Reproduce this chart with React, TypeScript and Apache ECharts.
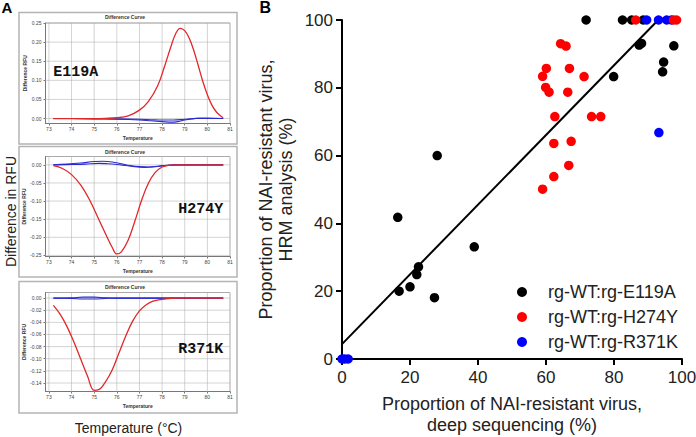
import React, { useEffect, useRef } from "react";
import * as echarts from "echarts";

type Pt = [number, number];

const FONT = "'Liberation Sans', Arial, Helvetica, sans-serif";
const MONO = "'Liberation Mono', 'Courier New', monospace";

// ---------- Panel A data ----------
const tempTicks = [73, 74, 75, 76, 77, 78, 79, 80, 81];
const e119aTicks = [0, 0.05, 0.1, 0.15, 0.2, 0.25];
const h274yTicks = [0, -0.05, -0.1, -0.15, -0.2, -0.25];
const r371kTicks = [0, -0.02, -0.04, -0.06, -0.08, -0.1, -0.12, -0.14];

const e119aRed: Pt[] = [
  [73.2, 0], [74.0, 0], [75.0, 0], [75.5, 0.0005], [76.0, 0.002], [76.5, 0.007],
  [77.0, 0.022], [77.4, 0.045], [77.8, 0.085], [78.1, 0.135], [78.4, 0.19],
  [78.6, 0.222], [78.8, 0.236], [79.0, 0.23], [79.2, 0.21], [79.4, 0.178],
  [79.6, 0.138], [79.8, 0.097], [80.0, 0.062], [80.2, 0.035], [80.4, 0.017],
  [80.6, 0.006], [80.7, 0.002],
];
const e119aBlue1: Pt[] = [
  [73.2, 0], [74.0, 0], [75.0, -0.001], [76.0, -0.002], [77.0, -0.004], [77.5, -0.006],
  [78.0, -0.008], [78.4, -0.0095], [78.7, -0.008], [79.0, -0.004], [79.3, -0.001],
  [79.6, 0.001], [80.0, 0.001], [80.7, 0],
];
const e119aBlue2: Pt[] = [
  [73.2, 0], [74.0, 0], [75.0, -0.0005], [76.0, -0.001], [77.0, -0.002], [77.5, -0.003],
  [78.0, -0.004], [78.5, -0.004], [79.0, -0.002], [79.5, 0], [80.7, 0],
];

const h274yRed: Pt[] = [
  [73.2, -0.002], [73.6, -0.01], [74.0, -0.027], [74.4, -0.055], [74.8, -0.097],
  [75.2, -0.15], [75.5, -0.19], [75.8, -0.228], [76.0, -0.246], [76.2, -0.24],
  [76.5, -0.208], [76.8, -0.155], [77.1, -0.097], [77.4, -0.05], [77.7, -0.021],
  [78.0, -0.006], [78.3, -0.001], [78.6, 0], [80.7, 0],
];
const h274yBlue1: Pt[] = [
  [73.2, 0], [73.8, 0.002], [74.4, 0.005], [75.0, 0.009], [75.4, 0.01], [75.8, 0.008],
  [76.2, 0.003], [76.6, -0.002], [77.0, -0.005], [77.4, -0.006], [77.8, -0.004],
  [78.2, -0.001], [78.6, 0], [80.7, 0],
];
const h274yBlue2: Pt[] = [
  [73.2, 0], [74.0, 0.001], [74.6, 0.002], [75.2, 0.004], [75.6, 0.003], [76.0, 0.001],
  [76.4, -0.002], [76.8, -0.005], [77.2, -0.007], [77.6, -0.006], [78.0, -0.003],
  [78.4, -0.001], [78.8, 0], [80.7, 0],
];

const r371kRed: Pt[] = [
  [73.2, -0.012], [73.5, -0.027], [73.8, -0.047], [74.1, -0.072], [74.4, -0.1],
  [74.7, -0.128], [75.0, -0.152], [75.2, -0.151], [75.5, -0.138], [75.8, -0.118],
  [76.1, -0.09], [76.4, -0.062], [76.7, -0.038], [77.0, -0.021], [77.3, -0.011],
  [77.6, -0.005], [78.0, -0.002], [78.4, -0.0005], [78.8, 0], [80.7, 0],
];
const r371kBlue1: Pt[] = [
  [73.2, 0], [74.0, 0.0005], [74.5, 0.0015], [75.0, 0.0015], [75.5, 0.0005], [76.0, 0], [80.7, 0],
];
const r371kBlue2: Pt[] = [
  [73.2, 0], [74.0, -0.0005], [74.5, -0.0015], [75.0, -0.0015], [75.5, -0.0005], [76.0, 0], [80.7, 0],
];

// ---------- Panel B data ----------
const pctTicksInterval = 20;
const e119aPoints: Pt[] = [
  [16.4, 41.8], [16.8, 20.0], [20.0, 21.3], [22.0, 24.9], [22.5, 27.2], [27.2, 18.1],
  [28.0, 60.0], [38.9, 33.1], [71.8, 100], [82.5, 100], [85.2, 100], [88.6, 100],
  [87.4, 92.6], [88.1, 93.1], [79.9, 83.3], [94.6, 87.6], [94.3, 84.7], [97.6, 92.4],
];
const h274yPoints: Pt[] = [
  [64.3, 93.0], [65.9, 92.3], [60.1, 85.7], [66.9, 85.7], [59.0, 83.4], [71.2, 83.3],
  [59.9, 80.1], [60.9, 78.7], [66.4, 78.7], [62.6, 71.5], [73.4, 71.5], [76.1, 71.5],
  [62.3, 63.6], [67.4, 64.2], [66.7, 57.1], [62.3, 53.8], [59.0, 50.1],
  [86.4, 100], [97.5, 100], [98.4, 100],
];
const r371kPoints: Pt[] = [
  [0, 0], [0.8, 0], [1.8, 0], [89.6, 100], [93.1, 100], [95.5, 100], [96.9, 100], [93.2, 66.8],
];
const fitLine: Pt[] = [[0, 4.4], [93, 100]];

const RED = "#e02828";
const BLUE = "#2a2ad0";
const TEMP_MIN = 72.85;
const TEMP_MAX = 81;

interface SmallPanel {
  grid: { left: number; top: number; width: number; height: number };
  yMin: number;
  yMax: number;
  yTicks: number[];
  red: Pt[];
  blues: Pt[][];
}

const smallPanels: SmallPanel[] = [
  { grid: { left: 45.5, top: 23, width: 184.5, height: 100.5 }, yMin: -0.013, yMax: 0.25, yTicks: e119aTicks, red: e119aRed, blues: [e119aBlue1, e119aBlue2] },
  { grid: { left: 45.5, top: 156.5, width: 184.5, height: 100 }, yMin: -0.253, yMax: 0.023, yTicks: h274yTicks, red: h274yRed, blues: [h274yBlue1, h274yBlue2] },
  { grid: { left: 45.5, top: 292.5, width: 184.5, height: 99 }, yMin: -0.154, yMax: 0.0092, yTicks: r371kTicks, red: r371kRed, blues: [r371kBlue1, r371kBlue2] },
];

function buildOption(): any {
  const grids: any[] = [];
  const xAxes: any[] = [];
  const yAxes: any[] = [];
  const series: any[] = [];

  smallPanels.forEach((p, i) => {
    grids.push({ ...p.grid, show: true, borderColor: "#aaa", borderWidth: 1, backgroundColor: "transparent", containLabel: false, outerBoundsMode: "none" });
    xAxes.push({
      type: "value", gridIndex: i, min: TEMP_MIN, max: TEMP_MAX,
      axisLine: { show: true, onZero: false, lineStyle: { color: "#777", width: 1 } },
      axisTick: { show: true, customValues: tempTicks, length: 2, lineStyle: { color: "#777" } },
      axisLabel: { customValues: tempTicks, fontSize: 5, color: "#444", margin: 2.5, fontFamily: FONT, formatter: (v: number) => String(v) },
      splitLine: { show: false },
      name: "Temperature", nameLocation: "middle", nameGap: 12,
      nameTextStyle: { fontSize: 5, fontWeight: "bold", color: "#333", fontFamily: FONT },
    });
    yAxes.push({
      type: "value", gridIndex: i, min: p.yMin, max: p.yMax,
      axisLine: { show: true, onZero: false, lineStyle: { color: "#777", width: 1 } },
      axisTick: { show: true, customValues: p.yTicks, length: 2, lineStyle: { color: "#777" } },
      axisLabel: { customValues: p.yTicks, fontSize: 5, color: "#444", margin: 4, fontFamily: FONT, formatter: (v: number) => v.toFixed(2) },
      splitLine: { show: false },
      name: "Difference RFU", nameLocation: "middle", nameGap: 15,
      nameTextStyle: { fontSize: 5, fontWeight: "bold", color: "#333", fontFamily: FONT },
    });
    // grid lines through each tick, drawn beneath the curves
    tempTicks.filter((t) => t < TEMP_MAX).forEach((t) => {
      series.push({
        type: "line", xAxisIndex: i, yAxisIndex: i, data: [[t, p.yMin], [t, p.yMax]],
        symbol: "none", showSymbol: false, z: 1, silent: true, clip: false,
        lineStyle: { type: "dotted", color: "#a8a8a8", width: 1 },
      });
    });
    p.yTicks.forEach((t) => {
      series.push({
        type: "line", xAxisIndex: i, yAxisIndex: i, data: [[TEMP_MIN, t], [TEMP_MAX, t]],
        symbol: "none", showSymbol: false, z: 1, silent: true, clip: false,
        lineStyle: { type: "dotted", color: "#a8a8a8", width: 1 },
      });
    });
    p.blues.forEach((b) => {
      series.push({
        type: "line", xAxisIndex: i, yAxisIndex: i, data: b, smooth: 0.4,
        showSymbol: false, symbol: "none", lineStyle: { color: BLUE, width: 1.1 }, z: 2,
      });
    });
    series.push({
      type: "line", xAxisIndex: i, yAxisIndex: i, data: p.red, smooth: 0.4,
      showSymbol: false, symbol: "none", lineStyle: { color: RED, width: 1.3 }, z: 3,
    });
  });

  // Panel B
  grids.push({ left: 342, top: 20, width: 340, height: 339, containLabel: false, outerBoundsMode: "none" });
  xAxes.push({
    type: "value", gridIndex: 3, min: 0, max: 100, interval: pctTicksInterval,
    axisLine: { show: true, onZero: false, lineStyle: { color: "#000", width: 2 } },
    axisTick: { show: true, length: 6, lineStyle: { color: "#000", width: 2 } },
    axisLabel: { fontSize: 17, color: "#222", margin: 10, fontFamily: FONT },
    splitLine: { show: false },
    name: "Proportion of NAI-resistant virus,\ndeep sequencing (%)",
    nameLocation: "middle", nameGap: 34,
    nameTextStyle: { fontSize: 18, lineHeight: 21, color: "#222", fontFamily: FONT },
  });
  yAxes.push({
    type: "value", gridIndex: 3, min: 0, max: 100, interval: pctTicksInterval,
    axisLine: { show: true, onZero: false, lineStyle: { color: "#000", width: 2 } },
    axisTick: { show: true, length: 6, lineStyle: { color: "#000", width: 2 } },
    axisLabel: { fontSize: 17, color: "#222", margin: 9, fontFamily: FONT },
    splitLine: { show: false },
    name: "Proportion of NAI-resistant virus,\nHRM analysis (%)",
    nameLocation: "middle", nameGap: 46,
    nameTextStyle: { fontSize: 18, lineHeight: 20, color: "#222", fontFamily: FONT },
  });
  series.push({
    type: "line", xAxisIndex: 3, yAxisIndex: 3, data: fitLine, showSymbol: false, symbol: "none",
    lineStyle: { color: "#000", width: 2 }, z: 2, silent: true,
  });
  const scat = (name: string, data: Pt[], color: string) => ({
    type: "scatter", name, xAxisIndex: 3, yAxisIndex: 3, data, symbolSize: 9.5,
    itemStyle: { color, opacity: 1 }, clip: false, z: 3,
  });
  series.push(scat("rg-WT:rg-E119A", e119aPoints, "#000000"));
  series.push(scat("rg-WT:rg-R371K", r371kPoints, "#0000ff"));
  series.push(scat("rg-WT:rg-H274Y", h274yPoints, "#ff0000"));

  const boxes = [
    { y: 12.5, h: 131.5 },
    { y: 146.5, h: 130.5 },
    { y: 281.5, h: 131.5 },
  ];
  const graphic: any[] = [
    ...boxes.map((b) => ({
      type: "rect", shape: { x: 19, y: b.y, width: 218, height: b.h }, z: -10, zlevel: 0,
      style: { fill: "none", stroke: "#b4b4b4", lineWidth: 1.5 },
    })),
    ...[17.3, 151.7, 286.7].map((y) => ({
      type: "text", x: 125, y, z: 10,
      style: { text: "Difference Curve", fontSize: 5, fontWeight: "bold", fill: "#333", fontFamily: FONT, textAlign: "center", textVerticalAlign: "middle" },
    })),
    { type: "text", x: 53.3, y: 72.3, z: 10, style: { text: "E119A", fontSize: 15, fontWeight: "bold", fill: "#111", fontFamily: MONO, textAlign: "left", textVerticalAlign: "middle" } },
    { type: "text", x: 223.3, y: 209, z: 10, style: { text: "H274Y", fontSize: 15, fontWeight: "bold", fill: "#111", fontFamily: MONO, textAlign: "right", textVerticalAlign: "middle" } },
    { type: "text", x: 223.3, y: 349.3, z: 10, style: { text: "R371K", fontSize: 15, fontWeight: "bold", fill: "#111", fontFamily: MONO, textAlign: "right", textVerticalAlign: "middle" } },
    { type: "text", x: 11, y: 211.5, rotation: Math.PI / 2, z: 10, style: { text: "Difference in RFU", fontSize: 14, fill: "#222", fontFamily: FONT, textAlign: "center", textVerticalAlign: "middle" } },
    { type: "text", x: 128.5, y: 427.7, z: 10, style: { text: "Temperature (°C)", fontSize: 14, fill: "#222", fontFamily: FONT, textAlign: "center", textVerticalAlign: "middle" } },
    { type: "text", x: 1.5, y: 7, z: 10, style: { text: "A", fontSize: 15, fontWeight: "bold", fill: "#000", fontFamily: FONT, textAlign: "left", textVerticalAlign: "middle" } },
    { type: "text", x: 259.5, y: 7.5, z: 10, style: { text: "B", fontSize: 16, fontWeight: "bold", fill: "#000", fontFamily: FONT, textAlign: "left", textVerticalAlign: "middle" } },
  ];

  return {
    animation: false,
    backgroundColor: "#fff",
    textStyle: { fontFamily: FONT },
    grid: grids,
    xAxis: xAxes,
    yAxis: yAxes,
    series,
    graphic,
    legend: {
      data: [
        { name: "rg-WT:rg-E119A", icon: "circle" },
        { name: "rg-WT:rg-H274Y", icon: "circle" },
        { name: "rg-WT:rg-R371K", icon: "circle" },
      ],
      orient: "vertical", left: 512, top: 277, itemWidth: 10, itemHeight: 10, itemGap: 5,
      selectedMode: false,
      textStyle: { fontSize: 18, color: "#222", fontFamily: FONT, padding: [0, 0, 0, 16], lineHeight: 20 },
    },
  };
}

export default function App() {
  const ref = useRef<HTMLDivElement>(null);
  useEffect(() => {
    if (!ref.current) return;
    const chart = echarts.init(ref.current, undefined, { renderer: "svg" });
    chart.setOption(buildOption());
    return () => chart.dispose();
  }, []);
  return (
    <div
      ref={ref}
      style={{ position: "absolute", left: 0, top: 0, width: 696, height: 437 }}
    />
  );
}
